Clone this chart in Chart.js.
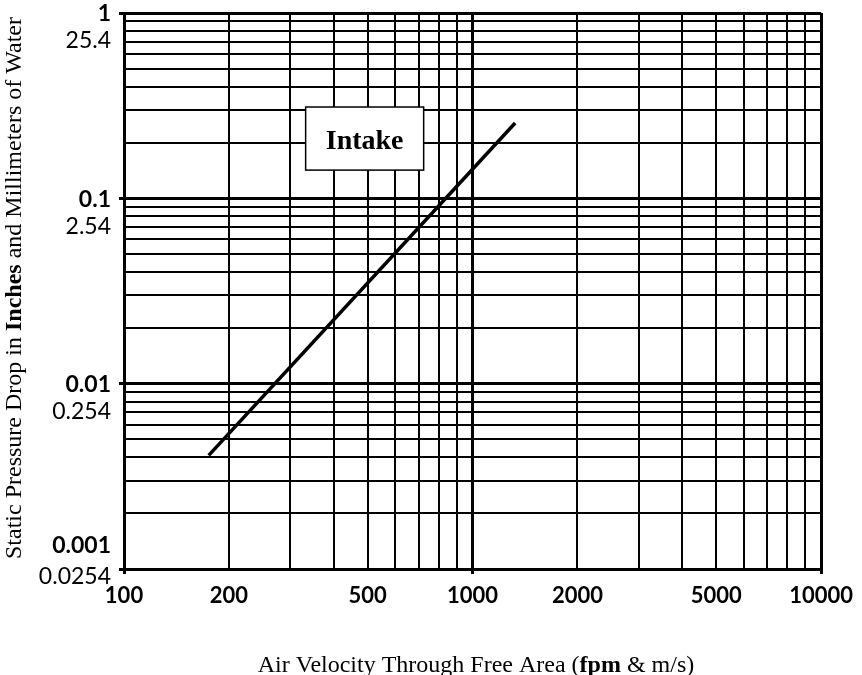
<!DOCTYPE html>
<html>
<head>
<meta charset="utf-8">
<script src="https://cdn.jsdelivr.net/npm/chart.js@4"></script>
<style>
  html, body { margin: 0; padding: 0; background: #fff; }
  #chart { display: block; }
</style>
</head>
<body>
<canvas id="chart" width="862" height="675"></canvas>
<script>
// Grid / tick values (log-log paper)
const xGrid = [100, 200, 300, 400, 500, 600, 700, 800, 900,
    1000, 2000, 3000, 4000, 5000, 6000, 7000, 8000, 9000, 10000];
const xLabels = [100, 200, 500, 1000, 2000, 5000, 10000];
const yGrid = [0.001, 0.002, 0.003, 0.004, 0.005, 0.006, 0.007, 0.008, 0.009,
    0.01, 0.02, 0.03, 0.04, 0.05, 0.06, 0.07, 0.08, 0.09,
    0.1, 0.2, 0.3, 0.4, 0.5, 0.6, 0.7, 0.8, 0.9, 1];
const yInchValues = [1, 0.1, 0.01, 0.001];
const yInchLabels = ['1', '0.1', '0.01', '0.001'];
const yMmLabels = ['25.4', '2.54', '0.254', '0.0254'];

// Intake curve: velocity (fpm) vs static pressure drop (in. of water)
const intakeVelocity = [175, 1325];
const intakePressure = [0.0041, 0.255];

// Label box corners in data units
const intakeBox = { x1: 332, x2: 724, y1: 0.311, y2: 0.142 };

const SERIF = "'Liberation Serif', 'DejaVu Serif', serif";
const SANS = "Lato, 'Open Sans', sans-serif";

const isDecade = v => Math.abs(Math.log10(v) - Math.round(Math.log10(v))) < 1e-6;

// draw text made of bold / normal pieces, centred on (cx, cy)
function drawMixed(ctx, parts, cx, cy, size) {
    let total = 0;
    parts.forEach(p => {
        ctx.font = (p.bold ? 'bold ' : '') + size + 'px ' + SERIF;
        p.w = ctx.measureText(p.text).width;
        total += p.w;
    });
    let x = cx - total / 2;
    ctx.textAlign = 'left';
    parts.forEach(p => {
        ctx.font = (p.bold ? 'bold ' : '') + size + 'px ' + SERIF;
        ctx.fillText(p.text, x, cy);
        x += p.w;
    });
}

const decorations = {
    id: 'decorations',
    afterDatasetsDraw(chart) {
        const { ctx, scales: { x, y } } = chart;
        ctx.save();

        // Intake label box
        const bx1 = x.getPixelForValue(intakeBox.x1), bx2 = x.getPixelForValue(intakeBox.x2);
        const by1 = y.getPixelForValue(intakeBox.y1), by2 = y.getPixelForValue(intakeBox.y2);
        ctx.fillStyle = '#fff';
        ctx.fillRect(bx1, by1, bx2 - bx1, by2 - by1);
        ctx.strokeStyle = '#000';
        ctx.lineWidth = 1.5;
        ctx.strokeRect(bx1, by1, bx2 - bx1, by2 - by1);
        ctx.fillStyle = '#000';
        ctx.font = 'bold 28px ' + SERIF;
        ctx.textAlign = 'center';
        ctx.textBaseline = 'alphabetic';
        ctx.fillText('Intake', (bx1 + bx2) / 2, by1 + 42);

        // y labels: inches (bold) over millimetres
        ctx.textAlign = 'right';
        ctx.textBaseline = 'middle';
        yInchValues.forEach((v, i) => {
            const py = y.getPixelForValue(v);
            const last = i === yInchValues.length - 1;
            ctx.font = 'bold 23px ' + SANS;
            ctx.fillText(yInchLabels[i], 111, last ? py - 23 : py + 1);
            ctx.font = '23px ' + SANS;
            ctx.fillText(yMmLabels[i], 111, last ? py + 8 : py + 28);
        });

        // axis titles
        ctx.textBaseline = 'alphabetic';
        drawMixed(ctx, [
            { text: 'Air Velocity Through Free Area (' },
            { text: 'fpm', bold: true },
            { text: ' & m/s)' }
        ], 476, 672, 24);

        ctx.translate(21, 288);
        ctx.rotate(-Math.PI / 2);
        drawMixed(ctx, [
            { text: 'Static Pressure Drop in ' },
            { text: 'Inches', bold: true },
            { text: ' and Millimeters of Water' }
        ], 0, 0, 24);
        ctx.restore();
    }
};

new Chart(document.getElementById('chart'), {
    type: 'scatter',
    data: {
        datasets: [{
            label: 'Intake',
            data: intakeVelocity.map((v, i) => ({ x: v, y: intakePressure[i] })),
            showLine: true,
            borderColor: '#000',
            borderWidth: 3.5,
            pointRadius: 0,
            fill: false
        }]
    },
    options: {
        responsive: false,
        animation: false,
        layout: { padding: { top: 13, right: 40, left: 0, bottom: 0 } },
        plugins: { legend: { display: false }, tooltip: { enabled: false } },
        scales: {
            x: {
                type: 'logarithmic',
                min: 100,
                max: 10000,
                afterBuildTicks: s => { s.ticks = xGrid.map(v => ({ value: v })); },
                afterFit: s => { s.height = 106; },
                border: { display: true, color: '#000', width: 3 },
                grid: {
                    color: '#000',
                    lineWidth: c => isDecade(c.tick.value) ? 3 : 2,
                    tickLength: 5,
                    tickColor: c => isDecade(c.tick.value) ? '#000' : 'rgba(0,0,0,0)'
                },
                ticks: {
                    autoSkip: false,
                    maxRotation: 0,
                    padding: 9,
                    color: '#000',
                    font: { family: SANS, size: 22, weight: 'bold' },
                    callback: v => xLabels.includes(v) ? String(v) : ''
                }
            },
            y: {
                type: 'logarithmic',
                min: 0.001,
                max: 1,
                afterBuildTicks: s => { s.ticks = yGrid.map(v => ({ value: v })); },
                afterFit: s => { s.width = 124; },
                border: { display: true, color: '#000', width: 3 },
                grid: {
                    color: '#000',
                    lineWidth: c => isDecade(c.tick.value) ? 3 : 2,
                    tickLength: 5,
                    tickColor: c => isDecade(c.tick.value) ? '#000' : 'rgba(0,0,0,0)'
                },
                ticks: { display: false }
            }
        }
    },
    plugins: [decorations]
});
</script>
</body>
</html>
